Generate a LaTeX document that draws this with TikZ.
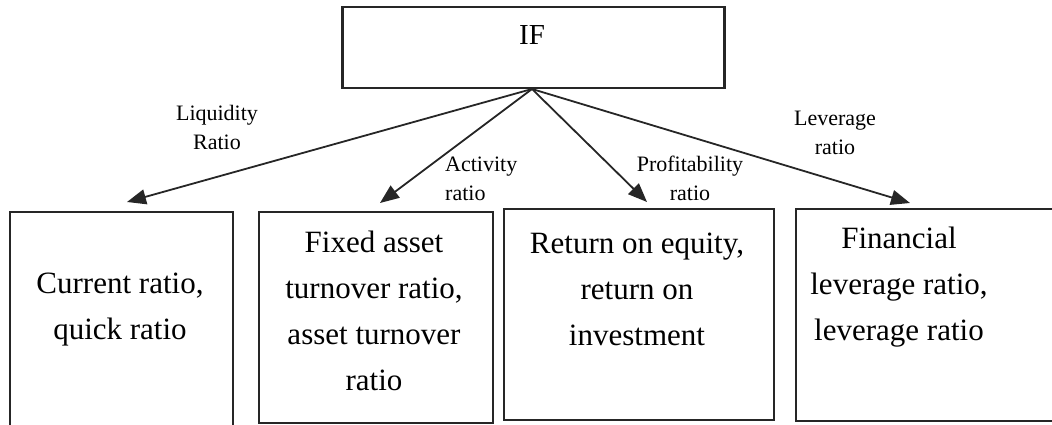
\documentclass[tikz,border=0pt]{standalone}
\usepackage{fontspec}
\setmainfont{Liberation Serif}
\usetikzlibrary{arrows.meta}
\begin{document}
\begin{tikzpicture}[x=1pt,y=-1pt,
  box/.style={draw=black!85,line width=2pt,rectangle,inner sep=0pt,anchor=north west},
  boxtext/.style={align=center,inner sep=0pt,font=\fontsize{31}{46}\selectfont},
  lbl/.style={align=center,inner sep=0pt,font=\fontsize{22}{29}\selectfont},
  arr/.style={line width=1.8pt,draw=black!85,-{Triangle[length=19pt,width=15pt]}}]
\useasboundingbox (0,0) rectangle (1052,425);
\clip (0,0) rectangle (1052,425);
% top box
\node[box,minimum width=382pt,minimum height=81pt,line width=2.5pt] (top) at (341,6) {};
\node[inner sep=0pt,font=\fontsize{29}{34}\selectfont] (iftext) at (532,35) {IF};
% lower boxes
\node[box,minimum width=223pt,minimum height=240pt] (b1) at (9,211) {};
\node[box,minimum width=234pt,minimum height=211pt] (b2) at (258,211) {};
\node[box,minimum width=270pt,minimum height=211pt] (b3) at (503,208) {};
\node[box,minimum width=270pt,minimum height=212pt] (b4) at (795,208) {};
% box texts
\node[boxtext] (t1) at (120,310) {Current ratio,\\quick ratio};
\node[boxtext] (t2) at (374,311) {Fixed asset\\turnover ratio,\\asset turnover\\ratio};
\node[boxtext] (t3) at (637,289) {Return on equity,\\return on\\investment};
\node[boxtext] (t4) at (899,287) {Financial\\leverage ratio,\\leverage ratio};
% arrow tips
\coordinate (tip1) at (127,202);
\coordinate (tip2) at (380,203);
\coordinate (tip3) at (647,202);
\coordinate (tip4) at (910,203);
\coordinate (apex) at (532,89);
\draw[arr] (apex) -- (tip1);
\draw[arr] (apex) -- (tip2);
\draw[arr] (apex) -- (tip3);
\draw[arr] (apex) -- (tip4);
% labels
\node[lbl] (l1) at (217,127.5) {Liquidity\\Ratio};
\node[lbl,align=left,anchor=west] (l2) at (445,179) {Activity\\ratio};
\node[lbl] (l3) at (690,178) {Profitability\\ratio};
\node[lbl] (l4) at (835,133) {Leverage\\ratio};
\end{tikzpicture}
\end{document}
